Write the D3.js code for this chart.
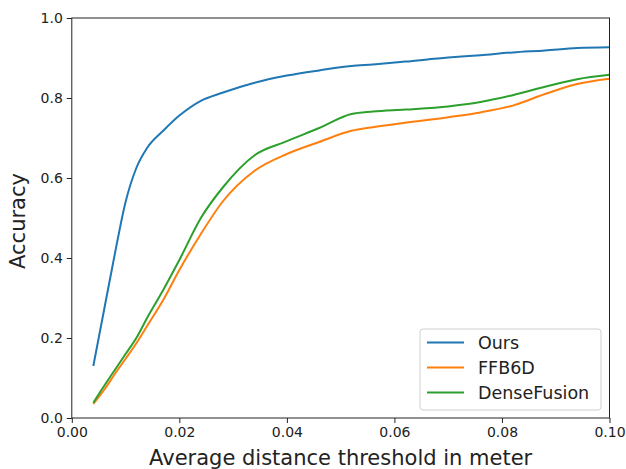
<!DOCTYPE html>
<html>
<head>
<meta charset="utf-8">
<script src="https://cdn.jsdelivr.net/npm/d3@7"></script>
<style>
  body { margin: 0; background: #fff; }
  svg { font-family: "DejaVu Sans", sans-serif; }
</style>
</head>
<body>
<svg id="chart" width="626" height="469"></svg>
<script>
/* data */
var thresholds = [0.004, 0.006, 0.008, 0.010, 0.012, 0.014, 0.017, 0.020, 0.024, 0.028, 0.034,
  0.040, 0.046, 0.052, 0.056, 0.062, 0.070, 0.076, 0.082, 0.088, 0.094, 0.100];
var ours = [0.13, 0.27, 0.41, 0.54, 0.625, 0.675, 0.718, 0.756, 0.793, 0.813, 0.838,
  0.856, 0.869, 0.880, 0.884, 0.891, 0.901, 0.907, 0.914, 0.919, 0.925, 0.927];
var ffb6d = [0.035, 0.07, 0.11, 0.148, 0.187, 0.23, 0.295, 0.37, 0.46, 0.54, 0.618,
  0.66, 0.69, 0.718, 0.727, 0.738, 0.752, 0.764, 0.781, 0.81, 0.835, 0.848];
var denseFusion = [0.038, 0.08, 0.12, 0.16, 0.20, 0.25, 0.32, 0.395, 0.50, 0.575, 0.657,
  0.692, 0.725, 0.760, 0.766, 0.771, 0.779, 0.790, 0.807, 0.828, 0.847, 0.858];
var seriesNames = ["Ours", "FFB6D", "DenseFusion"];
var xTicks = [0, 0.02, 0.04, 0.06, 0.08, 0.10];
var yTicks = [0, 0.2, 0.4, 0.6, 0.8, 1.0];

var colors = ["#1f77b4", "#ff7f0e", "#2ca02c"];
var allSeries = [ours, ffb6d, denseFusion];

var svg = d3.select("#chart");
var plotLeft = 71.8, plotRight = 609.5, plotTop = 18, plotBottom = 418;

var x = d3.scaleLinear().domain([0, 0.1]).range([plotLeft, plotRight]);
var y = d3.scaleLinear().domain([0, 1]).range([plotBottom, plotTop]);

/* axes */
var xAxis = svg.append("g")
  .attr("transform", "translate(0," + plotBottom + ")")
  .call(d3.axisBottom(x).tickValues(xTicks).tickFormat(d3.format(".2f")).tickSize(5).tickPadding(4));
var yAxis = svg.append("g")
  .attr("transform", "translate(" + plotLeft + ",0)")
  .call(d3.axisLeft(y).tickValues(yTicks).tickFormat(d3.format(".1f")).tickSize(5).tickPadding(4));

[xAxis, yAxis].forEach(function(g) {
  g.select(".domain").remove();
  g.selectAll("text").attr("font-size", 14).attr("fill", "#222").attr("font-family", "DejaVu Sans");
  g.selectAll("line").attr("stroke", "#222");
});

/* lines */
var line = d3.line()
  .x(function(d, i) { return x(thresholds[i]); })
  .y(function(d) { return y(d); })
  .curve(d3.curveMonotoneX);

allSeries.forEach(function(s, i) {
  svg.append("path")
    .attr("d", line(s))
    .attr("fill", "none")
    .attr("stroke", colors[i])
    .attr("stroke-width", 2);
});

/* frame */
svg.append("rect")
  .attr("x", plotLeft).attr("y", plotTop)
  .attr("width", plotRight - plotLeft).attr("height", plotBottom - plotTop)
  .attr("fill", "none").attr("stroke", "#222").attr("stroke-width", 1);

/* axis labels */
svg.append("text")
  .attr("x", (plotLeft + plotRight) / 2).attr("y", 465)
  .attr("text-anchor", "middle").attr("font-size", 21).attr("fill", "#222")
  .text("Average distance threshold in meter");
svg.append("text")
  .attr("transform", "translate(25,221) rotate(-90)")
  .attr("text-anchor", "middle").attr("font-size", 21).attr("fill", "#222")
  .text("Accuracy");

/* legend */
var legend = svg.append("g");
legend.append("rect")
  .attr("x", 420).attr("y", 329).attr("width", 181).attr("height", 81)
  .attr("rx", 3).attr("fill", "#fff").attr("fill-opacity", 0.8)
  .attr("stroke", "#d0d0d0");
seriesNames.forEach(function(name, i) {
  var ly = 342.5 + i * 25;
  legend.append("line")
    .attr("x1", 427).attr("x2", 464).attr("y1", ly).attr("y2", ly)
    .attr("stroke", colors[i]).attr("stroke-width", 2);
  legend.append("text")
    .attr("x", 478).attr("y", ly).attr("dy", "0.35em")
    .attr("font-size", 17.5).attr("fill", "#222")
    .text(name);
});
</script>
</body>
</html>
